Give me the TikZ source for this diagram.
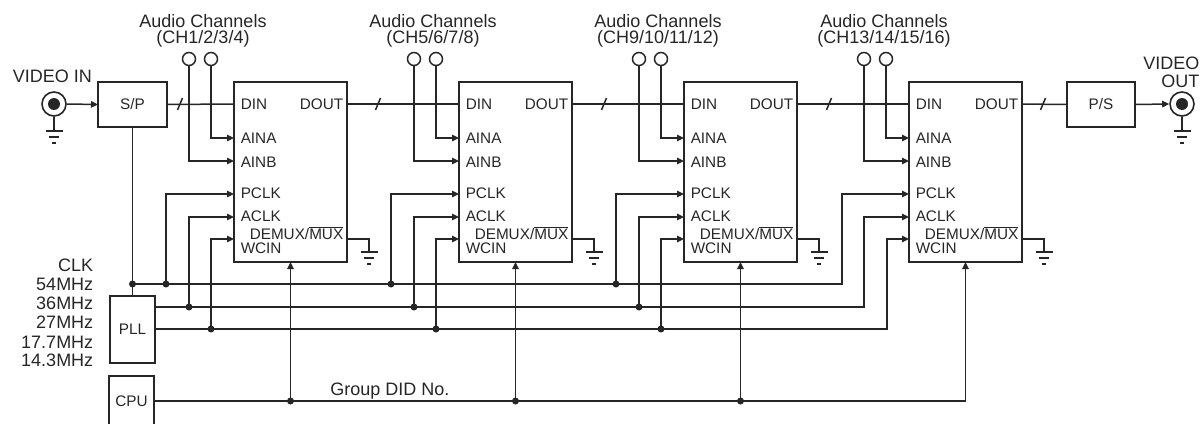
\documentclass[tikz,border=0pt]{standalone}
\usepackage{fontspec}
\setmainfont{Liberation Sans}
\usetikzlibrary{arrows.meta,calc}
\definecolor{ink}{HTML}{262626}
\begin{document}
\begin{tikzpicture}[x=1pt,y=-1pt,line width=1.5pt,color=ink,
  box/.style={draw,line width=1.6pt,inner sep=0pt,outer sep=0pt,rectangle,font=\fontsize{15.3}{15}\selectfont},
  pin/.style={font=\fontsize{15.3}{15}\selectfont,inner sep=0pt},
  lab/.style={font=\fontsize{18}{18}\selectfont,inner sep=0pt},
  arr/.style={-{Triangle[length=7pt,width=6.5pt]}},
  jdot/.style={circle,fill=ink,inner sep=0pt,minimum size=7pt},
  jack/.style={circle,draw,line width=1.6pt,minimum size=24pt,inner sep=0pt},
  jcore/.style={circle,fill=ink,inner sep=0pt,minimum size=12pt},
  ain/.style={circle,draw,line width=1.5pt,minimum size=13pt,inner sep=0pt},
  gnd/.pic={\draw (-8.5,0)--(8.5,0) (-5,6)--(5,6) (-2,12)--(2,12);},
  slash/.pic={\draw (-2.5,6)--(2.5,-6);}
]
\useasboundingbox (0,0) rectangle (1204,423);
\clip (0,0) rectangle (1204,423);

% video in
\node[lab,anchor=west] (vin) at (12,76) {VIDEO IN};
\node[jack] (jin) at (54,104) {};
\node[jcore] (jinc) at (jin) {};
\draw (jin.south) -- ++(0,14) pic {gnd};
\node[box,minimum width=69pt,minimum height=45pt] (sp) at (132.5,104.5) {S/P};
\draw[arr] (jin.east) -- (sp.west);

% chips
\foreach \i/\L/\cx/\ch in {1/234/203/{(CH1/2/3/4)},2/459/433/{(CH5/6/7/8)},3/684/658/{(CH9/10/11/12)},4/909/884/{(CH13/14/15/16)}}{
  \node[box,minimum width=113pt,minimum height=180pt] (c\i) at ({\L+56.5},172) {};
  \node[pin,anchor=west] (c\i-tdin) at ({\L+6},104) {DIN};
  \node[pin,anchor=east] (c\i-tdout) at ({\L+110},104) {DOUT};
  \node[pin,anchor=west] (c\i-taina) at ({\L+6},138) {AINA};
  \node[pin,anchor=west] (c\i-tainb) at ({\L+6},162) {AINB};
  \node[pin,anchor=west] (c\i-tpclk) at ({\L+6},193) {PCLK};
  \node[pin,anchor=west] (c\i-taclk) at ({\L+6},216) {ACLK};
  \node[pin,anchor=east] (c\i-tdemux) at ({\L+110},233) {DEMUX/$\overline{\mbox{MUX}}$};
  \node[pin,anchor=west] (c\i-twcin) at ({\L+6},248) {WCIN};
  \coordinate (c\i-din) at (\L,104);
  \coordinate (c\i-dout) at ({\L+113},104);
  \coordinate (c\i-aina) at (\L,138);
  \coordinate (c\i-ainb) at (\L,161);
  \coordinate (c\i-pclk) at (\L,194);
  \coordinate (c\i-aclk) at (\L,217);
  \coordinate (c\i-wcin) at (\L,239);
  \coordinate (c\i-dm) at ({\L+113},239);
  % audio inputs
  \node[ain] (a\i l) at ({\L-45},59) {};
  \node[ain] (a\i r) at ({\L-23},59) {};
  \node[lab] (t\i a) at (\cx,21) {Audio Channels};
  \node[lab] (t\i b) at (\cx,39) {\ch};
  \draw[arr] (a\i r.south) |- (c\i-aina);
  \draw[arr] (a\i l.south) |- (c\i-ainb);
  % demux ground
  \draw (c\i-dm) -- ++(22,0) -- ++(0,13) pic {gnd};
}

% data chain
\draw (sp.east) -- (c1-din);
\draw (c1-dout) -- (c2-din);
\draw (c2-dout) -- (c3-din);
\draw (c3-dout) -- (c4-din);
\pic at (180,104) {slash};
\pic at (378,104) {slash};
\pic at (604,104) {slash};
\pic at (829,104) {slash};
\pic at (1043,104) {slash};

% P/S and video out
\node[box,minimum width=68pt,minimum height=45pt] (ps) at (1101,104.5) {P/S};
\draw (c4-dout) -- (ps.west);
\node[jack] (jout) at (1182,104) {};
\node[jcore] (joutc) at (jout) {};
\draw[arr] (ps.east) -- (jout.west);
\draw (jout.south) -- ++(0,14) pic {gnd};
\node[lab,anchor=east] (vout1) at (1200,63) {VIDEO};
\node[lab,anchor=east] (vout2) at (1200,81) {OUT};

% PLL, CPU
\node[box,minimum width=45pt,minimum height=67pt] (pll) at (132.5,329.5) {PLL};
\node[box,minimum width=45pt,minimum height=50pt] (cpu) at (131.5,401) {CPU};

% clock labels
\foreach \t/\y in {CLK/265,54MHz/284,36MHz/303,27MHz/322,17.7MHz/342,14.3MHz/360}
  \node[lab,anchor=east] at (94,\y) {\t};

% clock buses
\coordinate (b0) at (132.5,284);
\draw (sp.south) -- (pll.north);
\node[jdot] at (b0) {};
\draw[arr] (b0) -- (842,284) |- (c4-pclk);
\draw[arr] (pll.east |- 0,307) -- (864,307) |- (c4-aclk);
\draw[arr] (pll.east |- 0,329) -- (887,329) |- (c4-wcin);
\foreach \i/\L in {1/234,2/459,3/684}{
  \draw[arr] ({\L-68},284) node[jdot]{} |- (c\i-pclk);
  \draw[arr] ({\L-45},307) node[jdot]{} |- (c\i-aclk);
  \draw[arr] ({\L-23},329) node[jdot]{} |- (c\i-wcin);
  \draw[arr] (c\i.south |- 0,401) node[jdot]{} -- (c\i.south);
}
\draw[arr] (cpu.east |- 0,401) -| (c4.south);
\node[lab] (gdid) at (390,391) {Group DID No.};
\end{tikzpicture}
\end{document}
